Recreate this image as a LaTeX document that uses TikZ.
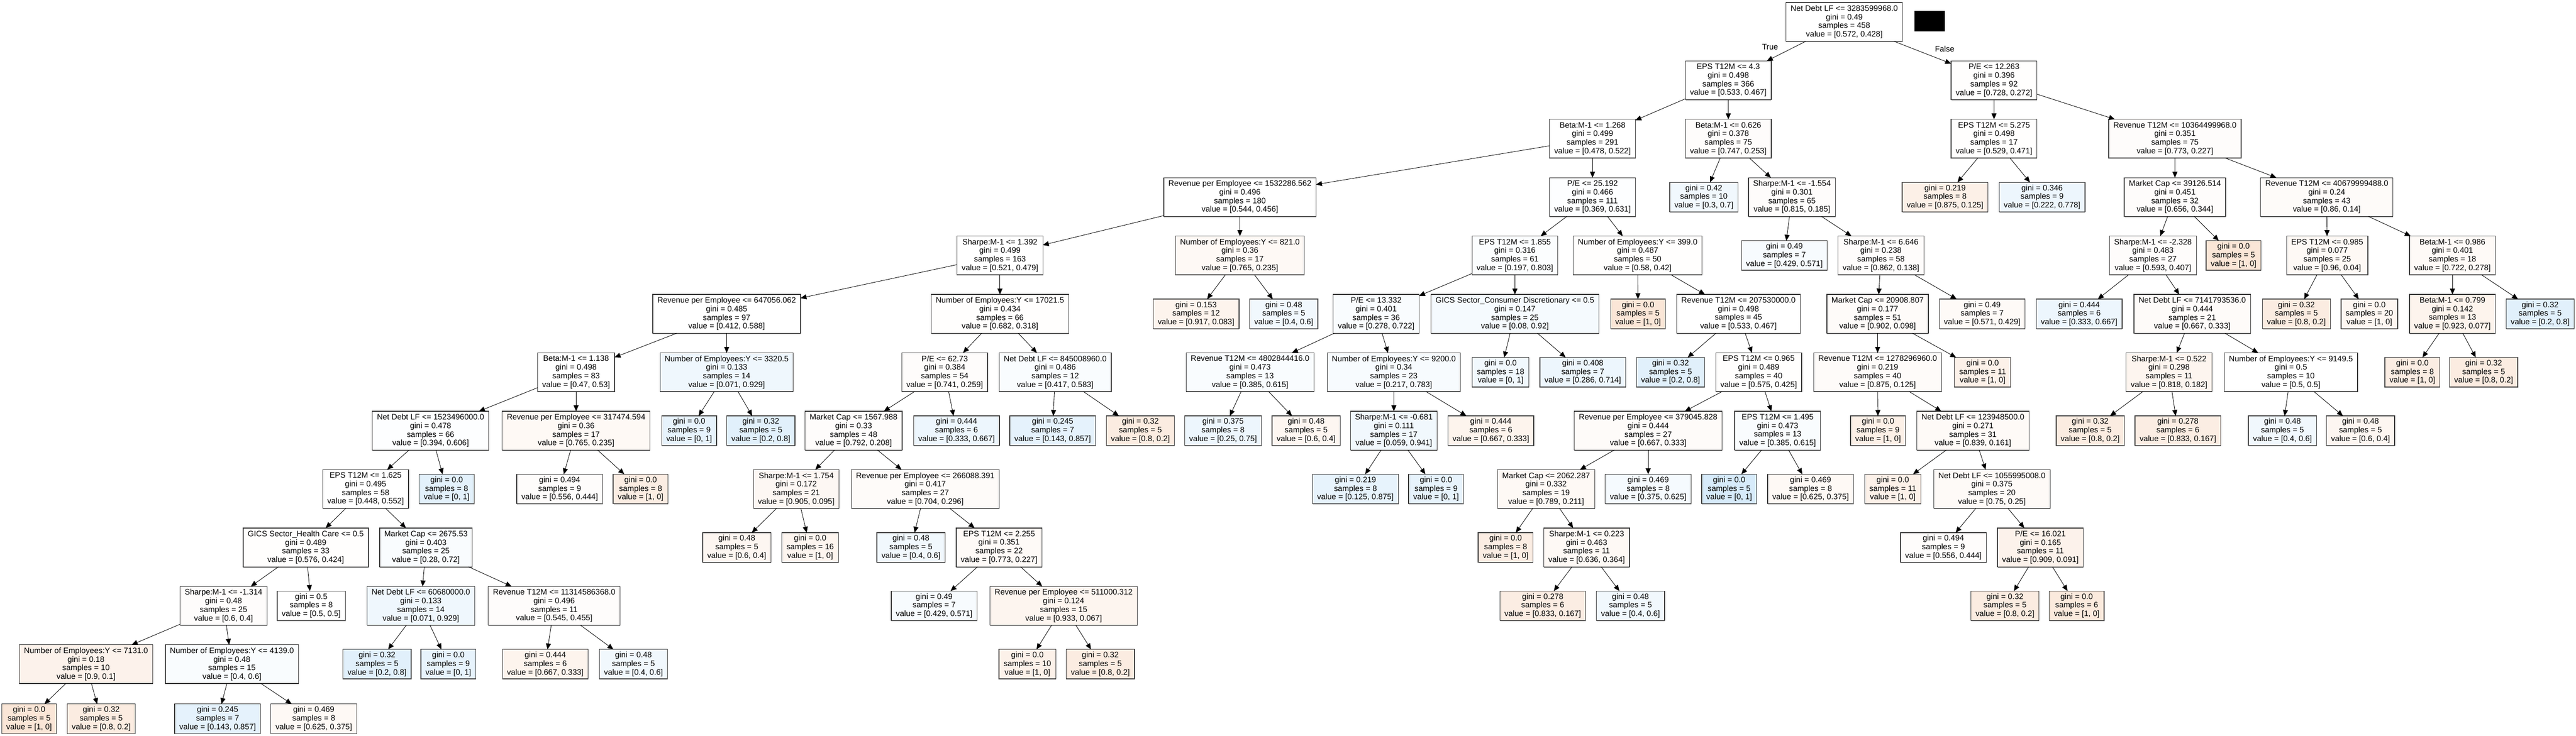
\documentclass[tikz,border=0pt]{standalone}
\usepackage{fontspec}
\setmainfont{Liberation Sans}
\usetikzlibrary{arrows.meta, shadows}
\definecolor{classorange}{RGB}{229,129,57}
\definecolor{classblue}{RGB}{57,157,229}
\newcommand{\treefont}{\fontsize{5.35pt}{5.8pt}\selectfont}

\begin{document}
\begin{tikzpicture}[x=0.01cm, y=-1.385cm, >={Triangle[length=4pt, width=3.4pt]},
    splitbox/.style={rectangle, draw=black!78, line width=0.45pt, fill=white,
      minimum height=9.2mm, inner xsep=1.1mm, inner ysep=0.4mm, outer sep=0pt,
      align=center, font=\treefont,
      drop shadow={shadow xshift=0.15pt, shadow yshift=-0.45pt, opacity=0.9, fill=black!55}},
    leafbox/.style={splitbox, minimum height=7mm},
    link/.style={->, line width=0.3pt}]
  \useasboundingbox (0,-0.3755) rectangle (6108,12.2238);

  % Root
  \node[splitbox] (n0) at (4373,0) {Net Debt LF <= 3283599968.0\\gini = 0.49\\samples = 458\\value = [0.572, 0.428]};
  \fill[black] (4539,-0.188) rectangle (4612,0.166);
  \node[font=\treefont] (truelbl) at (4197,0.426) {True};
  \node[font=\treefont] (falselbl) at (4611,0.462) {False};

  % True branch
  \node[splitbox] (n1) at (4098,1) {EPS T12M <= 4.3\\gini = 0.498\\samples = 366\\value = [0.533, 0.467]};
  \node[splitbox] (n2) at (3776,2) {Beta:M-1 <= 1.268\\gini = 0.499\\samples = 291\\value = [0.478, 0.522]};
  \node[splitbox] (n3) at (2940,3) {Revenue per Employee <= 1532286.562\\gini = 0.496\\samples = 180\\value = [0.544, 0.456]};
  \node[splitbox] (n4) at (2371,4) {Sharpe:M-1 <= 1.392\\gini = 0.499\\samples = 163\\value = [0.521, 0.479]};
  \node[splitbox] (n5) at (1723,5) {Revenue per Employee <= 647056.062\\gini = 0.485\\samples = 97\\value = [0.412, 0.588]};
  \node[splitbox] (n6) at (1366,6) {Beta:M-1 <= 1.138\\gini = 0.498\\samples = 83\\value = [0.47, 0.53]};
  \node[splitbox, fill=classblue!1] (n7) at (1021,7) {Net Debt LF <= 1523496000.0\\gini = 0.478\\samples = 66\\value = [0.394, 0.606]};
  \node[splitbox] (n8) at (867,8) {EPS T12M <= 1.625\\gini = 0.495\\samples = 58\\value = [0.448, 0.552]};
  \node[splitbox, fill=classorange!1] (n9) at (725,9) {GICS Sector\_Health Care <= 0.5\\gini = 0.489\\samples = 33\\value = [0.576, 0.424]};
  \node[splitbox, fill=classorange!2] (n10) at (530,10) {Sharpe:M-1 <= -1.314\\gini = 0.48\\samples = 25\\value = [0.6, 0.4]};
  \node[splitbox, fill=classorange!10] (n11) at (204,11) {Number of Employees:Y <= 7131.0\\gini = 0.18\\samples = 10\\value = [0.9, 0.1]};
  \node[leafbox, fill=classorange!20] (n12) at (69,11.935) {gini = 0.0\\samples = 5\\value = [1, 0]};
  \node[leafbox, fill=classorange!15] (n13) at (240,11.935) {gini = 0.32\\samples = 5\\value = [0.8, 0.2]};
  \node[splitbox, fill=classblue!3] (n14) at (550,11) {Number of Employees:Y <= 4139.0\\gini = 0.48\\samples = 15\\value = [0.4, 0.6]};
  \node[leafbox, fill=classblue!13] (n15) at (516,11.935) {gini = 0.245\\samples = 7\\value = [0.143, 0.857]};
  \node[leafbox, fill=classorange!5] (n16) at (744,11.935) {gini = 0.469\\samples = 8\\value = [0.625, 0.375]};
  \node[leafbox] (n17) at (738,10) {gini = 0.5\\samples = 8\\value = [0.5, 0.5]};
  \node[splitbox, fill=classblue!3] (n18) at (1010,9) {Market Cap <= 2675.53\\gini = 0.403\\samples = 25\\value = [0.28, 0.72]};
  \node[splitbox, fill=classblue!8] (n19) at (998,10) {Net Debt LF <= 60680000.0\\gini = 0.133\\samples = 14\\value = [0.071, 0.929]};
  \node[leafbox, fill=classblue!15] (n20) at (894,11) {gini = 0.32\\samples = 5\\value = [0.2, 0.8]};
  \node[leafbox, fill=classblue!12] (n21) at (1063,11) {gini = 0.0\\samples = 9\\value = [0, 1]};
  \node[splitbox, fill=classorange!2] (n22) at (1314,10) {Revenue T12M <= 11314586368.0\\gini = 0.496\\samples = 11\\value = [0.545, 0.455]};
  \node[leafbox, fill=classorange!9] (n23) at (1293,11) {gini = 0.444\\samples = 6\\value = [0.667, 0.333]};
  \node[leafbox, fill=classblue!7] (n24) at (1502,11) {gini = 0.48\\samples = 5\\value = [0.4, 0.6]};
  \node[leafbox, fill=classblue!14] (n25) at (1059,8) {gini = 0.0\\samples = 8\\value = [0, 1]};
  \node[splitbox, fill=classorange!5] (n26) at (1366,7) {Revenue per Employee <= 317474.594\\gini = 0.36\\samples = 17\\value = [0.765, 0.235]};
  \node[leafbox, fill=classorange!2] (n27) at (1327,8) {gini = 0.494\\samples = 9\\value = [0.556, 0.444]};
  \node[leafbox, fill=classorange!14] (n28) at (1519,8) {gini = 0.0\\samples = 8\\value = [1, 0]};
  \node[splitbox, fill=classblue!8] (n29) at (1723,6) {Number of Employees:Y <= 3320.5\\gini = 0.133\\samples = 14\\value = [0.071, 0.929]};
  \node[leafbox, fill=classblue!12] (n30) at (1634,7) {gini = 0.0\\samples = 9\\value = [0, 1]};
  \node[leafbox, fill=classblue!15] (n31) at (1804,7) {gini = 0.32\\samples = 5\\value = [0.2, 0.8]};
  \node[splitbox, fill=classorange!1] (n32) at (2371,5) {Number of Employees:Y <= 17021.5\\gini = 0.434\\samples = 66\\value = [0.682, 0.318]};
  \node[splitbox, fill=classorange!2] (n33) at (2240,6) {P/E <= 62.73\\gini = 0.384\\samples = 54\\value = [0.741, 0.259]};
  \node[splitbox, fill=classorange!2] (n34) at (2024,7) {Market Cap <= 1567.988\\gini = 0.33\\samples = 48\\value = [0.792, 0.208]};
  \node[splitbox, fill=classorange!6] (n35) at (1888,8) {Sharpe:M-1 <= 1.754\\gini = 0.172\\samples = 21\\value = [0.905, 0.095]};
  \node[leafbox, fill=classorange!7] (n36) at (1747,9) {gini = 0.48\\samples = 5\\value = [0.6, 0.4]};
  \node[leafbox, fill=classorange!8] (n37) at (1921,9) {gini = 0.0\\samples = 16\\value = [1, 0]};
  \node[splitbox, fill=classorange!3] (n38) at (2194,8) {Revenue per Employee <= 266088.391\\gini = 0.417\\samples = 27\\value = [0.704, 0.296]};
  \node[leafbox, fill=classblue!7] (n39) at (2160,9) {gini = 0.48\\samples = 5\\value = [0.4, 0.6]};
  \node[splitbox, fill=classorange!4] (n40) at (2369,9) {EPS T12M <= 2.255\\gini = 0.351\\samples = 22\\value = [0.773, 0.227]};
  \node[leafbox, fill=classblue!4] (n41) at (2215,10) {gini = 0.49\\samples = 7\\value = [0.429, 0.571]};
  \node[splitbox, fill=classorange!8] (n42) at (2522,10) {Revenue per Employee <= 511000.312\\gini = 0.124\\samples = 15\\value = [0.933, 0.067]};
  \node[leafbox, fill=classorange!11] (n43) at (2436,11) {gini = 0.0\\samples = 10\\value = [1, 0]};
  \node[leafbox, fill=classorange!15] (n44) at (2609,11) {gini = 0.32\\samples = 5\\value = [0.8, 0.2]};
  \node[leafbox, fill=classblue!9] (n45) at (2268,7) {gini = 0.444\\samples = 6\\value = [0.333, 0.667]};
  \node[splitbox, fill=classblue!3] (n46) at (2502,6) {Net Debt LF <= 845008960.0\\gini = 0.486\\samples = 12\\value = [0.417, 0.583]};
  \node[leafbox, fill=classblue!13] (n47) at (2496,7) {gini = 0.245\\samples = 7\\value = [0.143, 0.857]};
  \node[leafbox, fill=classorange!15] (n48) at (2704,7) {gini = 0.32\\samples = 5\\value = [0.8, 0.2]};
  \node[splitbox, fill=classorange!5] (n49) at (2940,4) {Number of Employees:Y <= 821.0\\gini = 0.36\\samples = 17\\value = [0.765, 0.235]};
  \node[leafbox, fill=classorange!9] (n50) at (2836,5) {gini = 0.153\\samples = 12\\value = [0.917, 0.083]};
  \node[leafbox, fill=classblue!7] (n51) at (3044,5) {gini = 0.48\\samples = 5\\value = [0.4, 0.6]};
  \node[splitbox, fill=classblue!1] (n52) at (3776,3) {P/E <= 25.192\\gini = 0.466\\samples = 111\\value = [0.369, 0.631]};
  \node[splitbox, fill=classblue!2] (n53) at (3592,4) {EPS T12M <= 1.855\\gini = 0.316\\samples = 61\\value = [0.197, 0.803]};
  \node[splitbox, fill=classblue!3] (n54) at (3263,5) {P/E <= 13.332\\gini = 0.401\\samples = 36\\value = [0.278, 0.722]};
  \node[splitbox, fill=classblue!3] (n55) at (2964,6) {Revenue T12M <= 4802844416.0\\gini = 0.473\\samples = 13\\value = [0.385, 0.615]};
  \node[leafbox, fill=classblue!9] (n56) at (2900,7) {gini = 0.375\\samples = 8\\value = [0.25, 0.75]};
  \node[leafbox, fill=classorange!7] (n57) at (3097,7) {gini = 0.48\\samples = 5\\value = [0.6, 0.4]};
  \node[splitbox, fill=classblue!4] (n58) at (3305,6) {Number of Employees:Y <= 9200.0\\gini = 0.34\\samples = 23\\value = [0.217, 0.783]};
  \node[splitbox, fill=classblue!7] (n59) at (3305,7) {Sharpe:M-1 <= -0.681\\gini = 0.111\\samples = 17\\value = [0.059, 0.941]};
  \node[leafbox, fill=classblue!12] (n60) at (3214,8) {gini = 0.219\\samples = 8\\value = [0.125, 0.875]};
  \node[leafbox, fill=classblue!12] (n61) at (3405,8) {gini = 0.0\\samples = 9\\value = [0, 1]};
  \node[leafbox, fill=classorange!9] (n62) at (3535,7) {gini = 0.444\\samples = 6\\value = [0.667, 0.333]};
  \node[splitbox, fill=classblue!5] (n63) at (3592,5) {GICS Sector\_Consumer Discretionary <= 0.5\\gini = 0.147\\samples = 25\\value = [0.08, 0.92]};
  \node[leafbox, fill=classblue!7] (n64) at (3558,6) {gini = 0.0\\samples = 18\\value = [0, 1]};
  \node[leafbox, fill=classblue!9] (n65) at (3753,6) {gini = 0.408\\samples = 7\\value = [0.286, 0.714]};
  \node[splitbox, fill=classorange!1] (n66) at (3883,4) {Number of Employees:Y <= 399.0\\gini = 0.487\\samples = 50\\value = [0.58, 0.42]};
  \node[leafbox, fill=classorange!20] (n67) at (3884,5) {gini = 0.0\\samples = 5\\value = [1, 0]};
  \node[splitbox] (n68) at (4122,5) {Revenue T12M <= 207530000.0\\gini = 0.498\\samples = 45\\value = [0.533, 0.467]};
  \node[leafbox, fill=classblue!15] (n69) at (3961,6) {gini = 0.32\\samples = 5\\value = [0.2, 0.8]};
  \node[splitbox, fill=classorange!1] (n70) at (4170,6) {EPS T12M <= 0.965\\gini = 0.489\\samples = 40\\value = [0.575, 0.425]};
  \node[splitbox, fill=classorange!3] (n71) at (3908,7) {Revenue per Employee <= 379045.828\\gini = 0.444\\samples = 27\\value = [0.667, 0.333]};
  \node[splitbox, fill=classorange!5] (n72) at (3666,8) {Market Cap <= 2062.287\\gini = 0.332\\samples = 19\\value = [0.789, 0.211]};
  \node[leafbox, fill=classorange!14] (n73) at (3570,9) {gini = 0.0\\samples = 8\\value = [1, 0]};
  \node[splitbox, fill=classorange!5] (n74) at (3762,9) {Sharpe:M-1 <= 0.223\\gini = 0.463\\samples = 11\\value = [0.636, 0.364]};
  \node[leafbox, fill=classorange!14] (n75) at (3658,10) {gini = 0.278\\samples = 6\\value = [0.833, 0.167]};
  \node[leafbox, fill=classblue!7] (n76) at (3866,10) {gini = 0.48\\samples = 5\\value = [0.4, 0.6]};
  \node[leafbox, fill=classblue!5] (n77) at (3908,8) {gini = 0.469\\samples = 8\\value = [0.375, 0.625]};
  \node[splitbox, fill=classblue!3] (n78) at (4215,7) {EPS T12M <= 1.495\\gini = 0.473\\samples = 13\\value = [0.385, 0.615]};
  \node[leafbox, fill=classblue!20] (n79) at (4100,8) {gini = 0.0\\samples = 5\\value = [0, 1]};
  \node[leafbox, fill=classorange!5] (n80) at (4293,8) {gini = 0.469\\samples = 8\\value = [0.625, 0.375]};
  \node[splitbox, fill=classorange!2] (n81) at (4098,2) {Beta:M-1 <= 0.626\\gini = 0.378\\samples = 75\\value = [0.747, 0.253]};
  \node[leafbox, fill=classblue!7] (n82) at (4040,3) {gini = 0.42\\samples = 10\\value = [0.3, 0.7]};
  \node[splitbox, fill=classorange!2] (n83) at (4249,3) {Sharpe:M-1 <= -1.554\\gini = 0.301\\samples = 65\\value = [0.815, 0.185]};
  \node[leafbox, fill=classblue!4] (n84) at (4231,4) {gini = 0.49\\samples = 7\\value = [0.429, 0.571]};
  \node[splitbox, fill=classorange!2] (n85) at (4460,4) {Sharpe:M-1 <= 6.646\\gini = 0.238\\samples = 58\\value = [0.862, 0.138]};
  \node[splitbox, fill=classorange!3] (n86) at (4452,5) {Market Cap <= 20908.807\\gini = 0.177\\samples = 51\\value = [0.902, 0.098]};
  \node[splitbox, fill=classorange!3] (n87) at (4452,6) {Revenue T12M <= 1278296960.0\\gini = 0.219\\samples = 40\\value = [0.875, 0.125]};
  \node[leafbox, fill=classorange!12] (n88) at (4453,7) {gini = 0.0\\samples = 9\\value = [1, 0]};
  \node[splitbox, fill=classorange!4] (n89) at (4678,7) {Net Debt LF <= 123948500.0\\gini = 0.271\\samples = 31\\value = [0.839, 0.161]};
  \node[leafbox, fill=classorange!11] (n90) at (4488,8) {gini = 0.0\\samples = 11\\value = [1, 0]};
  \node[splitbox, fill=classorange!4] (n91) at (4723,8) {Net Debt LF <= 1055995008.0\\gini = 0.375\\samples = 20\\value = [0.75, 0.25]};
  \node[leafbox, fill=classorange!2] (n92) at (4608,9) {gini = 0.494\\samples = 9\\value = [0.556, 0.444]};
  \node[splitbox, fill=classorange!10] (n93) at (4838,9) {P/E <= 16.021\\gini = 0.165\\samples = 11\\value = [0.909, 0.091]};
  \node[leafbox, fill=classorange!15] (n94) at (4754,10) {gini = 0.32\\samples = 5\\value = [0.8, 0.2]};
  \node[leafbox, fill=classorange!17] (n95) at (4924,10) {gini = 0.0\\samples = 6\\value = [1, 0]};
  \node[leafbox, fill=classorange!11] (n96) at (4701,6) {gini = 0.0\\samples = 11\\value = [1, 0]};
  \node[leafbox, fill=classorange!4] (n97) at (4700,5) {gini = 0.49\\samples = 7\\value = [0.571, 0.429]};

  % False branch
  \node[splitbox, fill=classorange!1] (n98) at (4728,1) {P/E <= 12.263\\gini = 0.396\\samples = 92\\value = [0.728, 0.272]};
  \node[splitbox, fill=classorange!1] (n99) at (4728,2) {EPS T12M <= 5.275\\gini = 0.498\\samples = 17\\value = [0.529, 0.471]};
  \node[leafbox, fill=classorange!12] (n100) at (4612,3) {gini = 0.219\\samples = 8\\value = [0.875, 0.125]};
  \node[leafbox, fill=classblue!9] (n101) at (4842,3) {gini = 0.346\\samples = 9\\value = [0.222, 0.778]};
  \node[splitbox, fill=classorange!2] (n102) at (5157,2) {Revenue T12M <= 10364499968.0\\gini = 0.351\\samples = 75\\value = [0.773, 0.227]};
  \node[splitbox, fill=classorange!2] (n103) at (5157,3) {Market Cap <= 39126.514\\gini = 0.451\\samples = 32\\value = [0.656, 0.344]};
  \node[splitbox, fill=classorange!2] (n104) at (5105,4) {Sharpe:M-1 <= -2.328\\gini = 0.483\\samples = 27\\value = [0.593, 0.407]};
  \node[leafbox, fill=classblue!9] (n105) at (4930,5) {gini = 0.444\\samples = 6\\value = [0.333, 0.667]};
  \node[splitbox, fill=classorange!3] (n106) at (5198,5) {Net Debt LF <= 7141793536.0\\gini = 0.444\\samples = 21\\value = [0.667, 0.333]};
  \node[splitbox, fill=classorange!8] (n107) at (5143,6) {Sharpe:M-1 <= 0.522\\gini = 0.298\\samples = 11\\value = [0.818, 0.182]};
  \node[leafbox, fill=classorange!15] (n108) at (4956,7) {gini = 0.32\\samples = 5\\value = [0.8, 0.2]};
  \node[leafbox, fill=classorange!14] (n109) at (5164,7) {gini = 0.278\\samples = 6\\value = [0.833, 0.167]};
  \node[splitbox] (n110) at (5432,6) {Number of Employees:Y <= 9149.5\\gini = 0.5\\samples = 10\\value = [0.5, 0.5]};
  \node[leafbox, fill=classblue!7] (n111) at (5412,7) {gini = 0.48\\samples = 5\\value = [0.4, 0.6]};
  \node[leafbox, fill=classorange!7] (n112) at (5597,7) {gini = 0.48\\samples = 5\\value = [0.6, 0.4]};
  \node[leafbox, fill=classorange!20] (n113) at (5296,4) {gini = 0.0\\samples = 5\\value = [1, 0]};
  \node[splitbox, fill=classorange!3] (n114) at (5517,3) {Revenue T12M <= 40679999488.0\\gini = 0.24\\samples = 43\\value = [0.86, 0.14]};
  \node[splitbox, fill=classorange!5] (n115) at (5518,4) {EPS T12M <= 0.985\\gini = 0.077\\samples = 25\\value = [0.96, 0.04]};
  \node[leafbox, fill=classorange!15] (n116) at (5445,5) {gini = 0.32\\samples = 5\\value = [0.8, 0.2]};
  \node[leafbox, fill=classorange!7] (n117) at (5618,5) {gini = 0.0\\samples = 20\\value = [1, 0]};
  \node[splitbox, fill=classorange!4] (n118) at (5815,4) {Beta:M-1 <= 0.986\\gini = 0.401\\samples = 18\\value = [0.722, 0.278]};
  \node[splitbox, fill=classorange!9] (n119) at (5815,5) {Beta:M-1 <= 0.799\\gini = 0.142\\samples = 13\\value = [0.923, 0.077]};
  \node[leafbox, fill=classorange!14] (n120) at (5720,6) {gini = 0.0\\samples = 8\\value = [1, 0]};
  \node[leafbox, fill=classorange!15] (n121) at (5889,6) {gini = 0.32\\samples = 5\\value = [0.8, 0.2]};
  \node[leafbox, fill=classblue!15] (n122) at (6023,5) {gini = 0.32\\samples = 5\\value = [0.2, 0.8]};

  % Edges
  \foreach \a/\b in {n0/n1, n1/n2, n2/n3, n3/n4, n4/n5, n5/n6, n6/n7, n7/n8, n8/n9,
      n9/n10, n10/n11, n11/n12, n11/n13, n10/n14, n14/n15, n14/n16, n9/n17,
      n8/n18, n18/n19, n19/n20, n19/n21, n18/n22, n22/n23, n22/n24, n7/n25,
      n6/n26, n26/n27, n26/n28, n5/n29, n29/n30, n29/n31, n4/n32, n32/n33,
      n33/n34, n34/n35, n35/n36, n35/n37, n34/n38, n38/n39, n38/n40, n40/n41,
      n40/n42, n42/n43, n42/n44, n33/n45, n32/n46, n46/n47, n46/n48, n3/n49,
      n49/n50, n49/n51, n2/n52, n52/n53, n53/n54, n54/n55, n55/n56, n55/n57,
      n54/n58, n58/n59, n59/n60, n59/n61, n58/n62, n53/n63, n63/n64, n63/n65,
      n52/n66, n66/n67, n66/n68, n68/n69, n68/n70, n70/n71, n71/n72, n72/n73,
      n72/n74, n74/n75, n74/n76, n71/n77, n70/n78, n78/n79, n78/n80, n1/n81,
      n81/n82, n81/n83, n83/n84, n83/n85, n85/n86, n86/n87, n87/n88, n87/n89,
      n89/n90, n89/n91, n91/n92, n91/n93, n93/n94, n93/n95, n86/n96, n85/n97,
      n0/n98, n98/n99, n99/n100, n99/n101, n98/n102, n102/n103, n103/n104,
      n104/n105, n104/n106, n106/n107, n107/n108, n107/n109, n106/n110,
      n110/n111, n110/n112, n103/n113, n102/n114, n114/n115, n115/n116,
      n115/n117, n114/n118, n118/n119, n119/n120, n119/n121, n118/n122}
    \draw[link] (\a) -- (\b);
\end{tikzpicture}
\end{document}
